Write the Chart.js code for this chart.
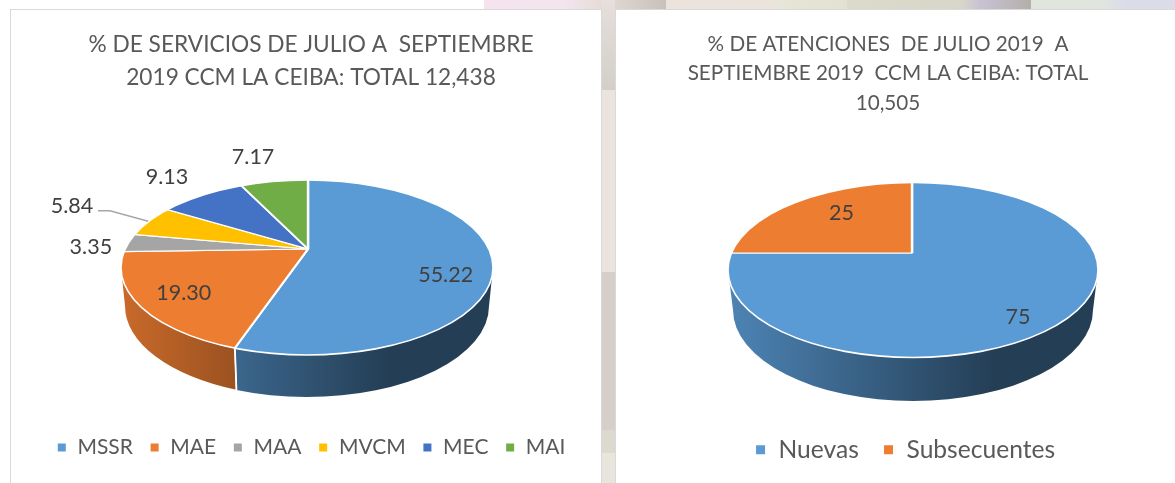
<!DOCTYPE html>
<html><head><meta charset="utf-8">
<script src="https://cdn.jsdelivr.net/npm/chart.js@4"></script>
<style>
html,body{margin:0;padding:0;background:#fff;width:1175px;height:483px;overflow:hidden}
#strip{position:absolute;left:484px;top:0;width:691px;height:12px;background:linear-gradient(90deg,#f5e4ef 0,#f3e4ee 80px,#e8dfdc 110px,#c8c0ba 182px,#ece3dd 182px,#ebe4dd 284px,#e6e6d8 300px,#e2e2d2 363px,#dcdacb 363px,#d8d6c8 478px,#c8c2d4 496px,#b4afa8 547px,#e2e5de 547px,#e2e5de 616px,#dcdce8 640px,#dcdce8 691px)}
#gap{position:absolute;left:601px;top:0;width:14px;height:483px;background:linear-gradient(180deg,#e6dfdc 0,#d3cfc8 90px,#ebe3de 90px,#ebe3de 272px,#d6cec9 272px,#d6cec9 430px,#dcdacd 430px,#dcdacd 453px,#e8e6dc 453px)}
.panel{position:absolute;top:9px;height:480px;background:#fff;border:1px solid #d9d9d9;box-sizing:border-box;overflow:hidden}
#p1{left:10px;width:592px}#p2{left:615px;width:570px}
canvas{display:block}
</style></head><body>
<div id="strip"></div><div id="gap"></div>
<div class="panel" id="p1"><canvas id="c1" width="590" height="474"></canvas></div>
<div class="panel" id="p2"><canvas id="c2" width="568" height="474"></canvas></div>
<script>
const servicesTitle = ["% DE SERVICIOS DE JULIO A  SEPTIEMBRE", "2019 CCM LA CEIBA: TOTAL 12,438"];
const servicesCategories = ["MSSR", "MAE", "MAA", "MVCM", "MEC", "MAI"];
const servicesValues = [55.22, 19.30, 3.35, 5.84, 9.13, 7.17];
const servicesLabels = ["55.22", "19.30", "3.35", "5.84", "9.13", "7.17"];
const servicesColors = ["#5B9BD5", "#ED7D31", "#A5A5A5", "#FFC000", "#4472C4", "#70AD47"];

const visitsTitle = ["% DE ATENCIONES  DE JULIO 2019  A", "SEPTIEMBRE 2019  CCM LA CEIBA: TOTAL", "10,505"];
const visitsCategories = ["Nuevas", "Subsecuentes"];
const visitsValues = [75, 25];
const visitsLabels = ["75", "25"];
const visitsColors = ["#5B9BD5", "#ED7D31"];

const FONT = "Lato, Carlito, sans-serif";
const K = 0.46;

function shade(hex, f){
  const n = parseInt(hex.slice(1),16);
  return `rgb(${Math.round((n>>16&255)*f)},${Math.round((n>>8&255)*f)},${Math.round((n&255)*f)})`;
}
function rimPoint(g, theta){
  const dx = Math.sin(theta), dy = -Math.cos(theta)*K;
  const ox = (g.ax-g.cx)/g.rx, oy = (g.ay-g.cy)/g.ry;
  const ux = dx/g.rx, uy = dy/g.ry;
  const a = ux*ux+uy*uy, b = 2*(ox*ux+oy*uy), c = ox*ox+oy*oy-1;
  const t = (-b+Math.sqrt(b*b-4*a*c))/(2*a);
  return {x:g.ax+dx*t, y:g.ay+dy*t, dx, dy, t};
}
const pie3d = {
  id:'pie3d',
  afterLayout(chart,args,o){
    if(o.titleDx){chart.titleBlock.left+=o.titleDx;chart.titleBlock.right+=o.titleDx;}
    if(o.legendDx){chart.legend.left+=o.legendDx;chart.legend.right+=o.legendDx;}
    if(o.legendDy){chart.legend.top+=o.legendDy;chart.legend.bottom+=o.legendDy;}
  },
  beforeDatasetsDraw(chart,args,o){
    const ctx = chart.ctx, arcs = chart.getDatasetMeta(0).data, colors = chart.data.datasets[0].backgroundColor;
    const seams = [];
    arcs.forEach((arc,i)=>{
      let lo=Infinity, hi=-Infinity;
      for(let th=arc.startAngle+Math.PI/2; th<=arc.endAngle+Math.PI/2+1e-6; th+=0.002){
        const p = rimPoint(o,th);
        if(p.y>=o.cy){const f=Math.atan2((p.y-o.cy)/o.ry,(p.x-o.cx)/o.rx); lo=Math.min(lo,f); hi=Math.max(hi,f);}
      }
      if(lo===Infinity) return;
      if(lo<0.03) lo=0; else seams.push(lo);
      if(hi>Math.PI-0.03) hi=Math.PI; else seams.push(hi);
      const g = ctx.createLinearGradient(o.cx-o.rx,0,o.cx+o.rx,0);
      g.addColorStop(0,shade(colors[i],0.85));
      g.addColorStop(0.72,shade(colors[i],0.4));
      g.addColorStop(1,shade(colors[i],0.4));
      ctx.beginPath();
      ctx.ellipse(o.cx,o.cy,o.rx,o.ry,0,lo,hi,false);
      ctx.ellipse(o.cx2,o.cy2,o.rx2,o.ry2,0,hi,lo,true);
      ctx.closePath();
      ctx.fillStyle=g;ctx.fill();
    });
    ctx.strokeStyle='#fff';ctx.lineWidth=1.5;
    seams.forEach(f=>{
      ctx.beginPath();
      ctx.moveTo(o.cx+o.rx*Math.cos(f),o.cy+o.ry*Math.sin(f));
      ctx.lineTo(o.cx2+o.rx2*Math.cos(f),o.cy2+o.ry2*Math.sin(f));
      ctx.stroke();
    });
    const c = arcs[0];
    ctx.save();
    ctx.beginPath();ctx.ellipse(o.cx,o.cy,o.rx,o.ry,0,0,Math.PI*2);ctx.clip();
    ctx.translate(o.ax,o.ay);ctx.scale(1,K);ctx.translate(-c.x,-c.y);
  },
  afterDatasetsDraw(chart,args,o){
    const ctx = chart.ctx, arcs = chart.getDatasetMeta(0).data;
    ctx.restore();
    ctx.strokeStyle='#fff';ctx.lineWidth=1.6;
    ctx.beginPath();ctx.ellipse(o.cx,o.cy,o.rx,o.ry,0,0,Math.PI*2);ctx.stroke();
    ctx.font=o.labelFont;ctx.fillStyle='#404040';ctx.textAlign='center';ctx.textBaseline='middle';
    arcs.forEach((arc,i)=>{
      const mid=(arc.startAngle+arc.endAngle)/2+Math.PI/2, p=rimPoint(o,mid), [f,dy]=o.labelPlace[i];
      const x=o.ax+p.dx*p.t*f, y=o.ay+p.dy*p.t*f+dy;
      ctx.fillText(o.labelText[i],x,y);
      if(o.leader===i){
        ctx.save();ctx.strokeStyle='#A6A6A6';ctx.lineWidth=1.4;ctx.beginPath();
        const sx=x+26,sy=y+5;
        ctx.moveTo(sx,sy);ctx.lineTo(sx+12,sy);ctx.lineTo(p.x-1,p.y);ctx.stroke();ctx.restore();
      }
    });
  }
};
function makeChart(id,cats,vals,cols,title,titleSize,titleLH,legendSize,legendPad,o){
  return new Chart(document.getElementById(id),{
    type:'pie',
    data:{labels:cats,datasets:[{data:vals,backgroundColor:cols,borderColor:'#fff',borderWidth:2.4,hoverOffset:0}]},
    plugins:[pie3d],
    options:{
      responsive:false,animation:false,radius:300,
      layout:{padding:0},
      plugins:{
        tooltip:{enabled:false},
        title:{display:true,text:title,color:'#595959',font:{family:FONT,size:titleSize,weight:'normal',lineHeight:titleLH},padding:{top:o.titleTop,bottom:0}},
        legend:{position:'bottom',labels:{usePointStyle:true,pointStyle:'rect',boxHeight:o.box,pointStyleWidth:o.box,color:'#595959',padding:legendPad,font:{family:FONT,size:legendSize}}},
        pie3d:o
      }
    }
  });
}
makeChart('c1',servicesCategories,servicesValues,servicesColors,servicesTitle,22.7,1.46,21,16.5,{
  ax:297,ay:239,cx:296,cy:257.5,rx:186,ry:87.5,cx2:296,cy2:296,rx2:182,ry2:91,
  titleDx:5,legendDx:5,legendDy:-16,titleTop:18,box:10.4,labelFont:"21.5px "+FONT,labelText:servicesLabels,
  labelPlace:[[0.745,16],[0.74,2],[1.21,6],[1.486,-2],[1.33,0],[1.63,18]],leader:3
});
makeChart('c2',visitsCategories,visitsValues,visitsColors,visitsTitle,20.7,1.44,24.6,24,{
  ax:296,ay:243,cx:297,cy:260,rx:185,ry:87.5,cx2:297,cy2:300,rx2:180,ry2:91,
  titleDx:-12,legendDx:5,legendDy:-12,titleTop:19,box:11.4,labelFont:"21.5px "+FONT,labelText:visitsLabels,
  labelPlace:[[0.707,15],[0.625,-7]]
});
</script>
</body></html>
